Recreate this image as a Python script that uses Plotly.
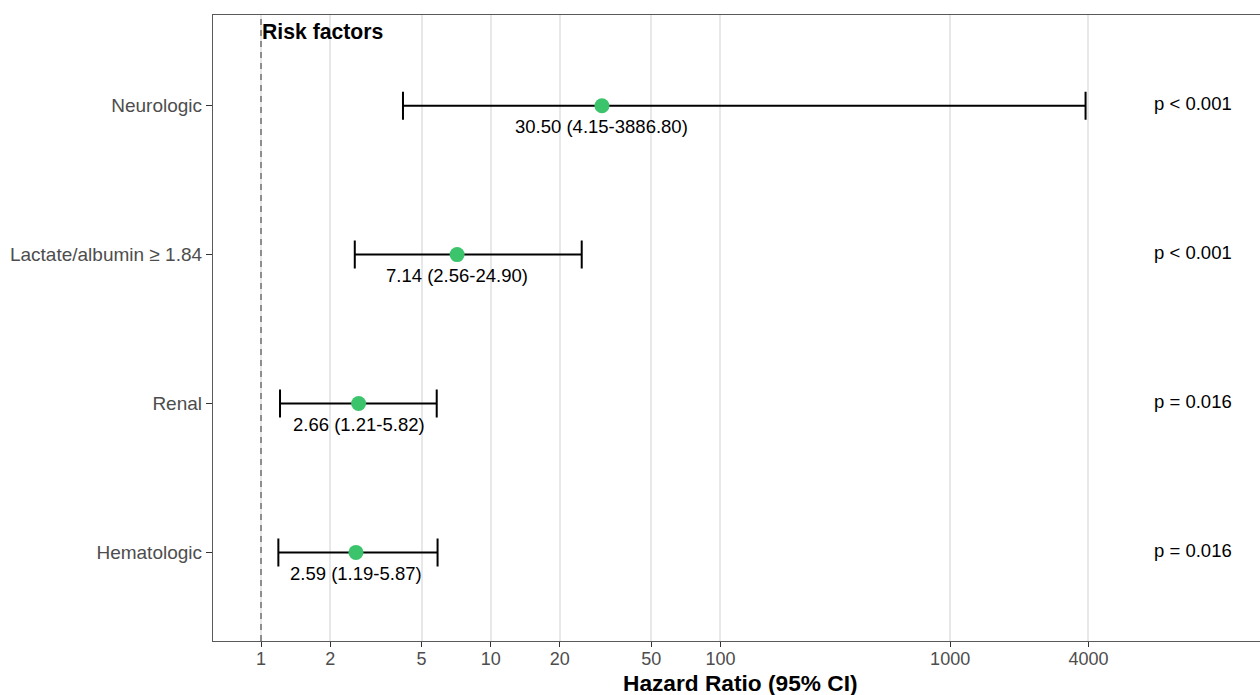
import numpy as np
import plotly.graph_objects as go

# ---- data ----
factors = ["Hematologic", "Renal", "Lactate/albumin ≥ 1.84", "Neurologic"]
hr = [2.59, 2.66, 7.14, 30.50]
ci_low = [1.19, 1.21, 2.56, 4.15]
ci_high = [5.87, 5.82, 24.90, 3886.80]
p_text = ["p = 0.016", "p = 0.016", "p < 0.001", "p < 0.001"]
x_ticks = [1, 2, 5, 10, 20, 50, 100, 1000, 4000]
x_ticktext = ["1", "2", "5", "10", "20", "50", "100", "1000", "4000"]

FONT = "Liberation Sans, Arial, Helvetica, sans-serif"
GREEN = "#3CC46C"
P_X = 11400  # x position of p-value column

ypos = list(range(1, len(factors) + 1))
labels = [f"{h:.2f} ({l:.2f}-{u:.2f})" for h, l, u in zip(hr, ci_low, ci_high)]

Y_RANGE = [0.405, 4.609]

fig = go.Figure()

# reference line at HR = 1
fig.add_trace(go.Scatter(
    x=[1, 1], y=Y_RANGE, mode="lines",
    line=dict(color="#707070", width=1.5, dash="6px,5px"),
    hoverinfo="skip", showlegend=False, cliponaxis=False))

# points with CI
fig.add_trace(go.Scatter(
    x=hr, y=ypos, mode="markers",
    marker=dict(color=GREEN, size=15),
    error_x=dict(type="data", symmetric=False,
                 array=[u - h for u, h in zip(ci_high, hr)],
                 arrayminus=[h - l for h, l in zip(hr, ci_low)],
                 color="black", thickness=2, width=14),
    showlegend=False))

# p-values
fig.add_trace(go.Scatter(
    x=[P_X] * len(factors), y=ypos, mode="text", text=p_text,
    textposition="middle center",
    textfont=dict(family=FONT, size=18.5, color="black"),
    showlegend=False, cliponaxis=False))

annotations = []
for h, y, lab in zip(hr, ypos, labels):
    annotations.append(dict(
        x=np.log10(h), y=y, xref="x", yref="y", text=lab, showarrow=False,
        xanchor="center", yanchor="middle", yshift=-21,
        font=dict(family=FONT, size=18.5, color="black")))

annotations.append(dict(
    x=0, y=4.5, xref="x", yref="y", text="<b>Risk factors</b>", showarrow=False,
    xanchor="left", yanchor="middle", xshift=-1,
    font=dict(family=FONT, size=21.2, color="black")))

annotations.append(dict(
    x=0.5, y=0, xref="paper", yref="paper", text="<b>Hazard Ratio (95% CI)</b>",
    showarrow=False, xanchor="center", yanchor="middle", yshift=-42, xshift=4,
    font=dict(family=FONT, size=22.7, color="black")))

fig.update_layout(
    width=1260, height=695,
    margin=dict(l=213, r=0, t=15, b=54),
    plot_bgcolor="white", paper_bgcolor="white",
    annotations=annotations,
    font=dict(family=FONT),
)

fig.update_xaxes(
    type="log", range=[-0.209, 4.349],
    tickvals=x_ticks, ticktext=x_ticktext,
    showgrid=True, gridcolor="#E8E8E8", gridwidth=1.5,
    zeroline=False,
    showline=True, mirror=True, linecolor="#5A5A5A", linewidth=1.3,
    ticks="outside", ticklen=5, tickcolor="#333333", tickwidth=1.3,
    ticklabelstandoff=-4,
    tickfont=dict(family=FONT, size=18, color="#4D4D4D"),
)

fig.update_yaxes(
    range=Y_RANGE, tickvals=ypos, ticktext=factors,
    showgrid=False, zeroline=False,
    showline=True, mirror=False, linecolor="#5A5A5A", linewidth=1.3,
    ticks="outside", ticklen=6, tickcolor="#333333", tickwidth=1.3,
    tickfont=dict(family=FONT, size=19, color="#4D4D4D"),
)

fig.write_html("out.html")
